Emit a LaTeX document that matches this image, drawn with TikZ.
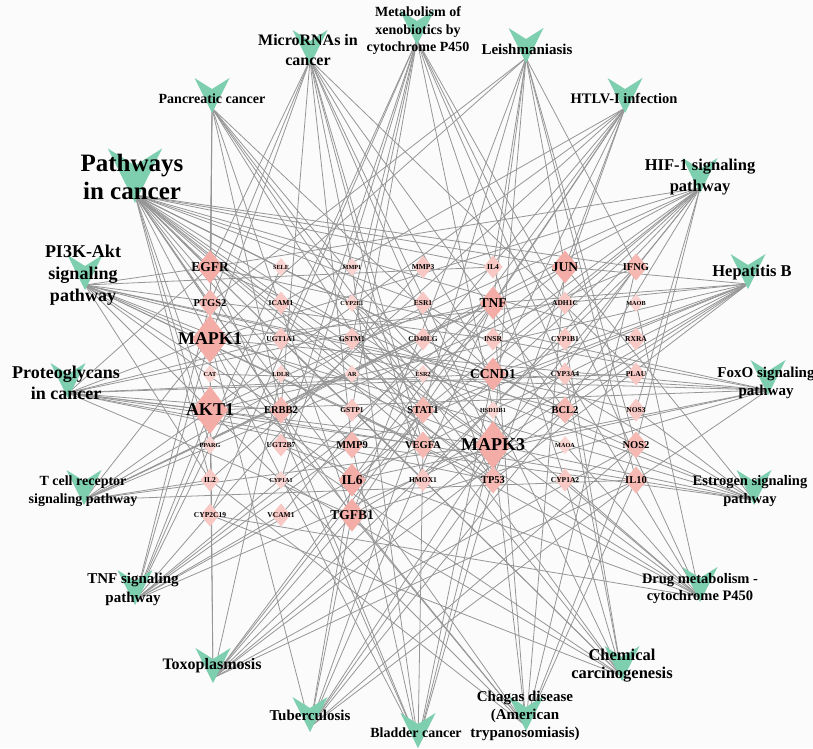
\documentclass[tikz,border=0pt]{standalone}
\usepackage{fontspec}
\setmainfont{Liberation Serif}
\usetikzlibrary{shapes.geometric}
\pgfdeclarelayer{edgelayer}
\pgfsetlayers{edgelayer,main}
\definecolor{vg}{RGB}{125,207,176}
\definecolor{pk}{RGB}{244,172,166}
\definecolor{pkm}{RGB}{245,184,178}
\definecolor{pkl}{RGB}{247,200,196}
\definecolor{pkt}{RGB}{249,212,208}
\definecolor{eg}{RGB}{150,150,150}
\definecolor{bgc}{RGB}{251,251,251}
\tikzset{
  edge/.style={draw=eg, line width=0.8pt},
  dia/.style={diamond, draw=none, inner sep=0pt, outer sep=0pt, aspect=1},
  diaH/.style={dia, fill=pk, minimum width=36pt, minimum height=48pt},
  diaL/.style={dia, fill=pk, minimum width=27pt, minimum height=33pt},
  diaM/.style={dia, fill=pkm, minimum width=23pt, minimum height=27pt},
  diaS/.style={dia, fill=pkl, minimum width=19pt, minimum height=23pt},
  diaT/.style={dia, fill=pkt, minimum width=15pt, minimum height=18pt},
  glab/.style={inner sep=0pt, text=black},
  labH/.style={glab, font=\fontsize{18}{18}\selectfont\bfseries},
  labL/.style={glab, font=\fontsize{13.5}{14}\selectfont\bfseries},
  labM/.style={glab, font=\fontsize{10.5}{11}\selectfont\bfseries},
  labS/.style={glab, font=\fontsize{7.5}{8}\selectfont\bfseries},
  labT/.style={glab, font=\fontsize{6.2}{7}\selectfont\bfseries},
  vee/.pic={\fill[vg] (-17.5,-30) -- (0,-19) -- (17.5,-30) -- (0,5) -- cycle;},
  pnode/.style={inner sep=0pt, outer sep=0pt, minimum size=0pt},
  plab/.style={align=center, inner sep=0pt, text=black},
}
\begin{document}
\begin{tikzpicture}[x=1pt,y=-1pt]
\useasboundingbox (0,0) rectangle (813,748);
% genes
\foreach \n/\x/\y/\c in {
 EGFR/210/267/L, SELE/281/267/T, MMP1/352/267/T, MMP3/423/267/S, IL4/493/267/S, JUN/565/267/L, IFNG/636/267/M,
 PTGS2/210/303/M, ICAM1/281/303/S, CYP2E1/352/303/T, ESR1/423/303/S, TNF/493/303/L, ADH1C/565/303/S, MAOB/636/303/T,
 MAPK1/210/339/H, UGT1A1/281/339/S, GSTM1/352/339/S, CD40LG/423/339/S, INSR/493/339/S, CYP1B1/565/339/S, RXRA/636/339/S,
 CAT/210/374/T, LDLR/281/374/T, AR/352/374/T, ESR2/423/374/T, CCND1/493/374/L, CYP3A4/565/374/S, PLAU/636/374/S,
 AKT1/210/410/H, ERBB2/281/410/M, GSTP1/352/410/S, STAT1/423/410/M, HSD11B1/493/410/T, BCL2/565/410/M, NOS3/636/410/S,
 PPARG/210/445/T, UGT2B7/281/445/S, MMP9/352/445/M, VEGFA/423/445/M, MAPK3/493/445/H, MAOA/565/445/T, NOS2/636/445/M,
 IL2/210/480/S, CYP1A1/281/480/T, IL6/352/480/L, HMOX1/423/480/S, TP53/493/480/M, CYP1A2/565/480/S, IL10/636/480/M,
 CYP2C19/210/515/S, VCAM1/281/515/S, TGFB1/352/515/L}
 {\node[dia\c] (\n) at (\x,\y) {};}
% pathway anchor nodes
\node[pnode] (mirna) at (310,60) {};
\node[pnode] (xeno) at (417,40) {};
\node[pnode] (leish) at (526,58) {};
\node[pnode] (panc) at (212,108) {};
\node[pnode] (htlv) at (625,108) {};
\node[pnode] (pcan) at (135,195) {};
\node[pnode] (hif) at (700,188) {};
\node[pnode] (pik) at (85,285) {};
\node[pnode] (hepb) at (748,284) {};
\node[pnode] (prot) at (68,393) {};
\node[pnode] (foxo) at (768,390) {};
\node[pnode] (tcell) at (84,500) {};
\node[pnode] (estr) at (754,500) {};
\node[pnode] (tnfs) at (135,600) {};
\node[pnode] (drug) at (700,597) {};
\node[pnode] (toxo) at (213,678) {};
\node[pnode] (tb) at (310,727) {};
\node[pnode] (blad) at (418,743) {};
\node[pnode] (chag) at (526,726) {};
\node[pnode] (chem) at (622,676) {};
% edges
\begin{pgfonlayer}{edgelayer}
\fill[bgc] (0,0) rectangle (813,748);
\foreach \g in {EGFR,MMP1,IL4,JUN,IFNG,PTGS2,ESR1,MAPK1,RXRA,AR,ESR2,CCND1,AKT1,ERBB2,GSTP1,STAT1,BCL2,NOS2,PPARG,MMP9,VEGFA,MAPK3,IL2,IL6,HMOX1,TP53,TGFB1} \draw[edge] (pcan) -- (\g.center);
\foreach \g in {EGFR,MMP1,PTGS2,CCND1,ERBB2,BCL2,MMP9,VEGFA,TP53,PLAU,HMOX1,MAPK1,MAPK3} \draw[edge] (mirna) -- (\g.center);
\foreach \g in {CYP2E1,ADH1C,UGT1A1,GSTM1,CYP1B1,CYP3A4,GSTP1,HSD11B1,UGT2B7,CYP1A1,CYP1A2,CYP2C19} \draw[edge] (xeno) -- (\g.center);
\foreach \g in {JUN,IFNG,IL4,PTGS2,TNF,MAPK1,STAT1,MAPK3,NOS2,IL10,TGFB1} \draw[edge] (leish) -- (\g.center);
\foreach \g in {EGFR,MAPK1,CCND1,AKT1,ERBB2,STAT1,VEGFA,MAPK3,TP53,TGFB1} \draw[edge] (panc) -- (\g.center);
\foreach \g in {JUN,TNF,ICAM1,CCND1,AKT1,IL2,IL6,TP53,TGFB1,VCAM1} \draw[edge] (htlv) -- (\g.center);
\foreach \g in {EGFR,IFNG,MAPK1,INSR,AKT1,ERBB2,STAT1,BCL2,NOS3,VEGFA,MAPK3,NOS2,IL6,HMOX1} \draw[edge] (hif) -- (\g.center);
\foreach \g in {EGFR,IL4,MAPK1,INSR,CCND1,AKT1,ERBB2,BCL2,NOS3,VEGFA,MAPK3,IL2,IL6,TP53} \draw[edge] (pik) -- (\g.center);
\foreach \g in {JUN,TNF,MAPK1,CCND1,AKT1,STAT1,BCL2,MAPK3,IL6,TP53,TGFB1,MMP9} \draw[edge] (hepb) -- (\g.center);
\foreach \g in {EGFR,ESR1,TNF,MAPK1,CCND1,PLAU,AKT1,ERBB2,MMP9,VEGFA,MAPK3,TP53,TGFB1} \draw[edge] (prot) -- (\g.center);
\foreach \g in {EGFR,MAPK1,INSR,CCND1,CAT,AKT1,MAPK3,IL6,TGFB1,IL10} \draw[edge] (foxo) -- (\g.center);
\foreach \g in {IL4,JUN,IFNG,TNF,MAPK1,CD40LG,AKT1,MAPK3,IL2,IL10} \draw[edge] (tcell) -- (\g.center);
\foreach \g in {EGFR,JUN,ESR1,MAPK1,ESR2,AKT1,NOS3,MMP9,MAPK3} \draw[edge] (estr) -- (\g.center);
\foreach \g in {SELE,MMP3,JUN,PTGS2,ICAM1,TNF,MAPK1,AKT1,MMP9,MAPK3,IL6,VCAM1} \draw[edge] (tnfs) -- (\g.center);
\foreach \g in {CYP2E1,ADH1C,MAOB,UGT1A1,GSTM1,CYP3A4,GSTP1,UGT2B7,MAOA,CYP1A2,CYP2C19} \draw[edge] (drug) -- (\g.center);
\foreach \g in {IFNG,TNF,MAPK1,LDLR,AKT1,STAT1,BCL2,MAPK3,NOS2,IL10,TGFB1} \draw[edge] (toxo) -- (\g.center);
\foreach \g in {IFNG,TNF,MAPK1,STAT1,BCL2,MAPK3,NOS2,IL6,IL10,TGFB1} \draw[edge] (tb) -- (\g.center);
\foreach \g in {EGFR,MMP1,MAPK1,CCND1,ERBB2,VEGFA,MAPK3,TP53,MMP9} \draw[edge] (blad) -- (\g.center);
\foreach \g in {IFNG,TNF,JUN,MAPK1,AKT1,IL2,IL6,NOS2,IL10,TGFB1,MAPK3} \draw[edge] (chag) -- (\g.center);
\foreach \g in {CYP2E1,UGT1A1,GSTM1,CYP1B1,CYP3A4,GSTP1,UGT2B7,CYP1A1,CYP1A2,CYP2C19,HSD11B1} \draw[edge] (chem) -- (\g.center);
\end{pgfonlayer}
% gene labels
\foreach \n/\c in {EGFR/L,SELE/T,MMP1/T,MMP3/S,IL4/S,JUN/L,IFNG/M,
 PTGS2/M,ICAM1/S,CYP2E1/T,ESR1/S,TNF/L,ADH1C/S,MAOB/T,
 MAPK1/H,UGT1A1/S,GSTM1/S,CD40LG/S,INSR/S,CYP1B1/S,RXRA/S,
 CAT/T,LDLR/T,AR/T,ESR2/T,CCND1/L,CYP3A4/S,PLAU/S,
 AKT1/H,ERBB2/M,GSTP1/S,STAT1/M,HSD11B1/T,BCL2/M,NOS3/S,
 PPARG/T,UGT2B7/S,MMP9/M,VEGFA/M,MAPK3/H,MAOA/T,NOS2/M,
 IL2/S,CYP1A1/T,IL6/L,HMOX1/S,TP53/M,CYP1A2/S,IL10/M,
 CYP2C19/S,VCAM1/S,TGFB1/L}
 {\node[lab\c] (l\n) at (\n.center) {\n};}
% pathway shapes
\foreach \p in {mirna,xeno,leish,panc,htlv,hif,pik,hepb,prot,foxo,tcell,estr,tnfs,drug,toxo,tb,blad,chag,chem}
  {\pic at (\p) {vee};}
\pic[scale=1.55] at (pcan) {vee};
% pathway labels
\node[plab, font=\fontsize{16}{20}\selectfont\bfseries] (lmirna) at (308,50) {MicroRNAs in\\cancer};
\node[plab, font=\fontsize{14}{17.5}\selectfont\bfseries] (lxeno) at (418,31) {Metabolism of\\xenobiotics by\\cytochrome P450};
\node[plab, font=\fontsize{15}{18}\selectfont\bfseries] (lleish) at (527,49) {Leishmaniasis};
\node[plab, font=\fontsize{14}{17}\selectfont\bfseries] (lpanc) at (212,99) {Pancreatic cancer};
\node[plab, font=\fontsize{14.5}{17}\selectfont\bfseries] (lhtlv) at (624,98) {HTLV-I infection};
\node[plab, font=\fontsize{25}{28}\selectfont\bfseries] (lpcan) at (132,177) {Pathways\\in cancer};
\node[plab, font=\fontsize{16.5}{21}\selectfont\bfseries] (lhif) at (700,177) {HIF-1 signaling\\pathway};
\node[plab, font=\fontsize{18}{22}\selectfont\bfseries] (lpik) at (83,275) {PI3K-Akt\\signaling\\pathway};
\node[plab, font=\fontsize{16.5}{20}\selectfont\bfseries] (lhepb) at (752,273) {Hepatitis B};
\node[plab, font=\fontsize{18}{21}\selectfont\bfseries] (lprot) at (66,383) {Proteoglycans\\in cancer};
\node[plab, font=\fontsize{15}{17.5}\selectfont\bfseries] (lfoxo) at (766,383) {FoxO signaling\\pathway};
\node[plab, font=\fontsize{14}{17.5}\selectfont\bfseries] (ltcell) at (83,491) {T cell receptor\\signaling pathway};
\node[plab, font=\fontsize{14.5}{18}\selectfont\bfseries] (lestr) at (750,491) {Estrogen signaling\\pathway};
\node[plab, font=\fontsize{15}{19}\selectfont\bfseries] (ltnfs) at (133,589) {TNF signaling\\pathway};
\node[plab, font=\fontsize{14.5}{17}\selectfont\bfseries] (ldrug) at (700,589) {Drug metabolism -\\cytochrome P450};
\node[plab, font=\fontsize{16}{19}\selectfont\bfseries] (ltoxo) at (212,666) {Toxoplasmosis};
\node[plab, font=\fontsize{15}{18}\selectfont\bfseries] (ltb) at (310,715) {Tuberculosis};
\node[plab, font=\fontsize{14}{17}\selectfont\bfseries] (lblad) at (416,733) {Bladder cancer};
\node[plab, font=\fontsize{15}{18}\selectfont\bfseries] (lchag) at (525,716) {Chagas disease\\(American\\trypanosomiasis)};
\node[plab, font=\fontsize{16.5}{18}\selectfont\bfseries] (lchem) at (622,666) {Chemical\\carcinogenesis};
\end{tikzpicture}
\end{document}
